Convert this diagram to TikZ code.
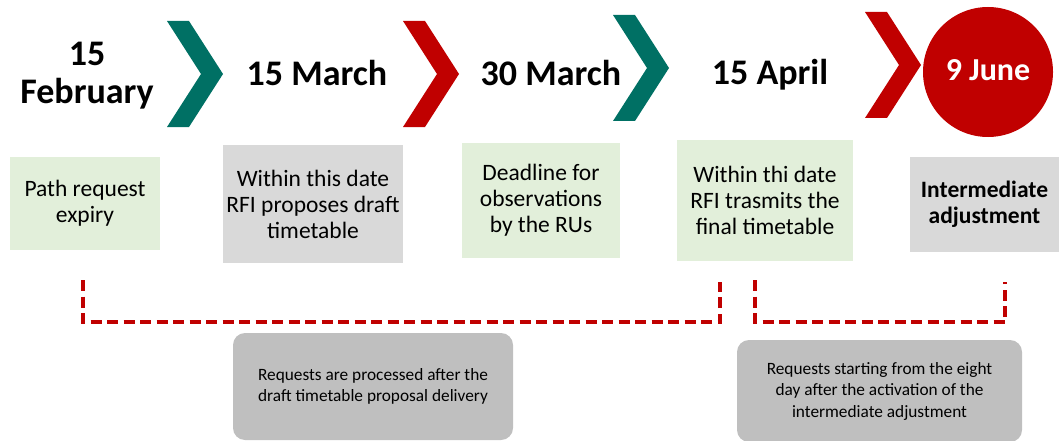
\documentclass[tikz,border=0pt]{standalone}
\usepackage{fontspec}
\setmainfont{Carlito}
\definecolor{chevgreen}{RGB}{0,112,100}
\definecolor{chevred}{RGB}{192,0,0}
\definecolor{stepgreen}{RGB}{226,239,218}
\definecolor{stepgray}{RGB}{217,217,217}
\definecolor{notegray}{RGB}{191,191,191}
% chevron: left x, top y, colour
\newcommand{\chevron}[3]{\fill[#3] (#1,#2) -- ++(22,0) -- ++(34,53) -- ++(-34,53) -- ++(-22,0) -- ++(34,-53) -- cycle;}
\begin{document}
\begin{tikzpicture}[x=1pt,y=-1pt]
        \tikzstyle{date}=[font=\fontsize{36}{38}\selectfont\bfseries,align=center,inner sep=0pt]
        \tikzstyle{stepbox}=[align=center,font=\fontsize{23.5}{26}\selectfont,inner sep=0pt]
        \tikzstyle{note}=[stepbox,fill=notegray,rounded corners=12pt,font=\fontsize{17.3}{21.5}\selectfont]
        \tikzstyle{bracket}=[draw=chevred,line width=3.5pt,dash pattern=on 11pt off 5.5pt]
        \useasboundingbox (0,0) rectangle (1059,441);
       \begin{scope}
         \chevron{167}{21}{chevgreen}
         \chevron{403}{21}{chevred}
         \chevron{613}{15}{chevgreen}
         \chevron{865}{12}{chevred}
         \node [circle,fill=chevred,minimum size=130pt,inner sep=0pt] (jun) at (988,72) {};
         \node [date] (feb) at (87,76) {15\\February};
         \node [date,anchor=base] (mar) at (317,86) {15 March};
         \node [date,anchor=base] (marend) at (551,86) {30 March};
         \node [date,anchor=base] (apr) at (770,85) {15 April};
         \node [date,anchor=base,text=white,font=\fontsize{32}{34}\selectfont\bfseries] (juntext) at (jun.center) [yshift=-9pt] {9 June};
        \end{scope}
       \begin{scope}
         \node [stepbox,fill=stepgreen,minimum width=150pt,minimum height=93pt] (expiry) at (85,203.5) {Path request\\expiry};
         \node [stepbox,fill=stepgray,minimum width=180pt,minimum height=118pt] (draft) at (313,204) {Within this date\\RFI proposes draft\\timetable};
         \node [stepbox,fill=stepgreen,minimum width=158pt,minimum height=115pt] (obs) at (541,200.5) {Deadline for\\observations\\by the RUs};
         \node [stepbox,fill=stepgreen,minimum width=176pt,minimum height=121pt] (final) at (765,200.5) {Within thi date\\RFI trasmits the\\final timetable};
         \node [stepbox,fill=stepgray,minimum width=149pt,minimum height=95pt,font=\fontsize{23.5}{26}\selectfont\bfseries] (adjust) at (984.5,204.5) {Intermediate\\adjustment};
        \end{scope}
       \begin{scope}
         \coordinate (b1s) at (83,280);
         \coordinate (b1e) at (720,282);
         \coordinate (b2s) at (755,280);
         \coordinate (b2e) at (1005,282);
         \path[bracket] (b1s) -- ++(0,42) -| (b1e);
         \path[bracket] (b2s) -- ++(0,42) -| (b2e);
         \node [note,minimum width=280pt,minimum height=107pt] (processed) at (373,386.5) {Requests are processed after the\\draft timetable proposal delivery};
         \node [note,minimum width=285pt,minimum height=102pt] (eighth) at (879.5,391) {Requests starting from the eight\\day after the activation of the\\intermediate adjustment};
        \end{scope}
      \end{tikzpicture}
\end{document}
